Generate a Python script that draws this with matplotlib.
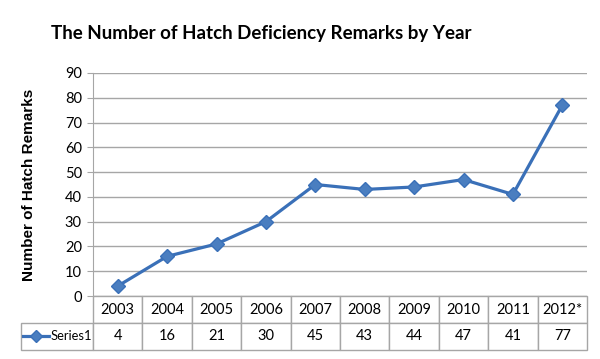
import matplotlib.pyplot as plt
from matplotlib.lines import Line2D

years = ['2003', '2004', '2005', '2006', '2007', '2008', '2009', '2010', '2011', '2012*']
remarks = [4, 16, 21, 30, 45, 43, 44, 47, 41, 77]
series_name = 'Series1'

blue = '#3a70b8'
grid_c = '#a6a6a6'

fig = plt.figure(figsize=(6, 3.59), dpi=100)
ax = fig.add_axes([93 / 600, 1 - 296 / 359, 494 / 600, 223 / 359])

x = list(range(len(years)))
ax.plot(x, remarks, color=blue, lw=2.3, marker='D', markersize=7.5,
        markerfacecolor='#4a7ec0', markeredgecolor=blue, clip_on=False, zorder=3)

ax.set_xlim(-0.5, len(years) - 0.5)
ax.set_ylim(0, 90)
ax.set_yticks(range(0, 91, 10))
ax.set_xticks([])
ax.yaxis.grid(True, color=grid_c, lw=1)
ax.set_axisbelow(True)
for s in ['top', 'right', 'bottom']:
    ax.spines[s].set_visible(False)
ax.spines['left'].set_color(grid_c)
ax.tick_params(axis='y', length=4, color=grid_c, labelsize=10.5, pad=4)
for lab in ax.get_yticklabels():
    lab.set_family('Lato')

ax.set_ylabel('Number of Hatch Remarks', family='Liberation Sans', fontweight='bold',
              fontsize=11, labelpad=21)

# data table under the plot
lw_cell = 72 / 49.4
cell_text = [[''] + [str(v) for v in remarks]]
col_labels = [''] + years
col_w = [lw_cell] + [1] * len(years)
tot = sum(col_w)
tbl = ax.table(cellText=cell_text, colLabels=col_labels,
               colWidths=[w / tot for w in col_w], cellLoc='center',
               bbox=[-72 / 494, -54 / 223, (494 + 72) / 494, 54 / 223])
tbl.auto_set_font_size(False)
for (r, c), cell in tbl.get_celld().items():
    cell.set_edgecolor(grid_c)
    cell.set_linewidth(1)
    cell.get_text().set_fontsize(10.5)
    cell.get_text().set_family('Lato')
tbl[(0, 0)].set_visible(False)

ax.add_line(Line2D([-70 / 494, -44 / 494], [-40 / 223, -40 / 223], transform=ax.transAxes,
                   color=blue, lw=2.3, clip_on=False))
ax.add_line(Line2D([-57 / 494], [-40 / 223], transform=ax.transAxes, color=blue,
                   marker='D', markersize=6.5, markerfacecolor='#4a7ec0', clip_on=False))
ax.text(-42 / 494, -40 / 223, series_name, transform=ax.transAxes, ha='left', va='center',
        fontsize=9.3, family='Lato')

fig.text(261 / 600, 1 - 33 / 359, 'The Number of Hatch Deficiency Remarks by Year',
         ha='center', va='center', fontsize=13.5, fontweight='bold', family='Lato')

fig.savefig('out.png', dpi=100)
